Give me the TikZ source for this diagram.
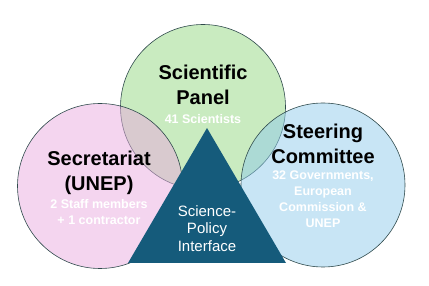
\documentclass[tikz,border=0pt]{standalone}
\usepackage{fontspec}
\setmainfont{Liberation Sans}
\definecolor{panelgreen}{HTML}{C9EBC0}
\definecolor{secpink}{HTML}{E9ABDF}
\definecolor{steerblue}{HTML}{91CBEB}
\definecolor{spiblue}{HTML}{155B7B}
\definecolor{rim}{HTML}{2F4A4C}
\usepackage{tikz}
\usetikzlibrary{positioning, calc}
\tikzset{
  group/.style={circle, draw=rim, line width=0.6pt, minimum size=165pt, inner sep=0pt},
  grouptitle/.style={font=\fontsize{20}{25}\selectfont\bfseries, align=center, anchor=north, inner sep=0pt},
  members/.style={font=\fontsize{12.5}{16}\selectfont\bfseries, text=white, align=center, anchor=north, inner sep=0pt},
  spitext/.style={font=\fontsize{15}{17.5}\selectfont, text=white, align=center, anchor=north, inner sep=0pt},
}

\begin{document}
\begin{tikzpicture}[x=1pt, y=-1pt]
        \useasboundingbox (0,0) rectangle (429,286);
        \node[group, fill=panelgreen] (panel) at (203,107) {};
        \node[group, fill=secpink, fill opacity=.5] (secretariat) at (100,186) {};
        \node[group, fill=steerblue, fill opacity=.5, minimum size=164pt] (steering) at (323,185) {};
        \coordinate (apex) at (207,128);
        \coordinate (baseL) at (128,263);
        \coordinate (baseR) at (286,263);
        \fill[spiblue] (apex) -- (baseR) -- (baseL) -- cycle;
        \node[grouptitle] (panelT) at (203,65) {Scientific\\Panel};
        \node[members] (panelM) at (203,114) {41 Scientists};
        \node[grouptitle] (secT) at (99,151) {Secretariat\\(UNEP)};
        \node[members] (secM) at (99,199) {2 Staff members\\+ 1 contractor};
        \node[grouptitle] (steerT) at (323,124) {Steering\\Committee};
        \node[members] (steerM) at (323,171) {32 Governments,\\European\\Commission \&\\UNEP};
        \node[spitext] (spi) at (207,205) {Science-\\Policy\\Interface};
      \end{tikzpicture}
\end{document}
